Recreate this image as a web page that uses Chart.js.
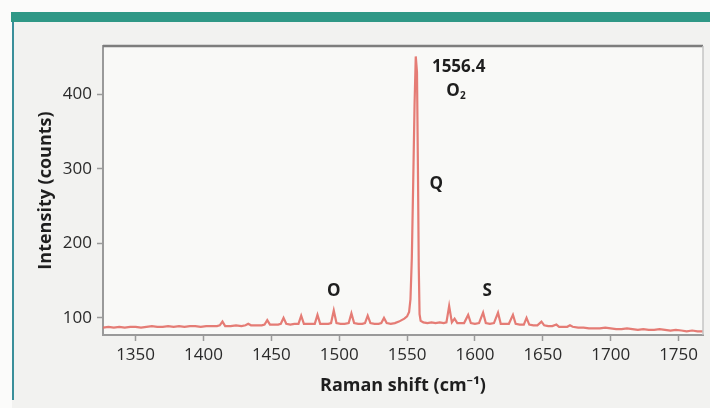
<!DOCTYPE html>
<html>
<head>
<meta charset="utf-8">
<script src="https://cdn.jsdelivr.net/npm/chart.js@4.4.1/dist/chart.umd.min.js"></script>
<style>
  html, body { margin: 0; padding: 0; background: #f3f3f1; }
  #wrap { width: 710px; height: 408px; }
</style>
</head>
<body>
<div id="wrap"><canvas id="raman"></canvas></div>
<script>
// O2 Raman spectrum: Raman shift (cm-1) vs. intensity (counts)
const ramanShift = [
  1326, 1330, 1334, 1338, 1342, 1346, 1350, 1354, 1358, 1362, 1366, 1370, 1374, 1378, 1382, 1386,
  1390, 1394, 1398, 1402, 1406, 1410, 1412, 1414, 1416, 1420, 1424, 1428, 1431, 1433, 1435, 1439,
  1443, 1445, 1447, 1449, 1452, 1455, 1457, 1459, 1461, 1464, 1467, 1470, 1472, 1474, 1477, 1480,
  1482, 1484, 1486, 1489, 1492, 1494, 1496, 1498, 1501, 1504, 1507, 1509, 1511, 1514, 1517, 1519,
  1521, 1523, 1526, 1529, 1531, 1533, 1535, 1538, 1541, 1544, 1546, 1548, 1550, 1551.5, 1552.5, 1553.5,
  1554.5, 1555.5, 1556.4, 1557.3, 1558, 1558.6, 1559.2, 1560, 1562, 1565, 1568, 1571, 1574, 1577, 1579, 1581,
  1583, 1585, 1587, 1589, 1592, 1595, 1597, 1600, 1603, 1606, 1608, 1611, 1614, 1617, 1619, 1622,
  1625, 1628, 1630, 1633, 1636, 1638, 1640, 1643, 1646, 1649, 1651, 1654, 1657, 1660, 1662, 1665,
  1668, 1670, 1672, 1676, 1680, 1684, 1688, 1692, 1696, 1700, 1704, 1708, 1712, 1716, 1720, 1724,
  1728, 1732, 1736, 1740, 1744, 1748, 1752, 1756, 1760, 1764, 1768
];
const counts = [
  87, 88, 87, 88, 87, 88, 88, 87, 88, 89, 88, 88, 89, 88, 89, 88,
  89, 89, 88, 89, 89, 89, 90, 95, 89, 89, 90, 89, 90, 92, 90, 90,
  90, 91, 97, 91, 91, 91, 92, 100, 92, 91, 92, 92, 103, 92, 92, 92,
  92, 104, 92, 92, 92, 93, 110, 93, 92, 92, 93, 106, 93, 92, 92, 93,
  103, 93, 92, 92, 93, 100, 93, 92, 93, 95, 97, 99, 102, 108, 125, 180,
  280, 385, 451, 430, 300, 170, 105, 96, 94, 93, 94, 93, 94, 93, 94, 116,
  94, 99, 93, 93, 93, 104, 93, 92, 93, 107, 93, 92, 93, 107, 92, 92,
  92, 104, 92, 91, 91, 100, 91, 90, 90, 95, 90, 89, 89, 91, 88, 88,
  88, 90, 88, 87, 87, 86, 86, 86, 87, 86, 85, 85, 86, 85, 84, 85,
  84, 84, 85, 84, 83, 84, 83, 82, 83, 82, 82
];
const xTicks = [1350, 1400, 1450, 1500, 1550, 1600, 1650, 1700, 1750];
const yTicks = [100, 200, 300, 400];

// peak annotations, placed in data units
const peakLabels = [
  { text: '1556.4', x: 1588, y: 436 },
  { text: 'O', sub: '2', x: 1586, y: 405 },
  { text: 'Q', x: 1571.5, y: 280 },
  { text: 'O', x: 1496, y: 136 },
  { text: 'S', x: 1609, y: 136 }
];

Chart.defaults.font.family = "'Open Sans', 'Noto Sans', sans-serif";
Chart.defaults.color = '#2a2a2a';

const pagePlugin = {
  id: 'page',
  beforeDraw(chart) {
    const { ctx, chartArea: a, width, height } = chart;
    ctx.save();
    ctx.fillStyle = '#f2f2f0';
    ctx.fillRect(0, 0, width, height);
    ctx.fillStyle = '#fbfbfa';
    ctx.fillRect(0, 0, width, 12);
    ctx.fillRect(0, 0, 12, height);
    // teal banner and side rule
    ctx.fillStyle = '#2f9886';
    ctx.fillRect(11, 12, width - 11, 10);
    ctx.fillStyle = '#3a8f9a';
    ctx.fillRect(12, 22, 2, height - 30);
    // plot area
    ctx.fillStyle = '#f9f9f7';
    ctx.fillRect(a.left, a.top, a.right - a.left, a.bottom - a.top);
    ctx.restore();
  },
  afterDraw(chart) {
    const { ctx, chartArea: a, scales } = chart;
    ctx.save();
    ctx.strokeStyle = '#7d7d7d';
    ctx.lineWidth = 2.5;
    ctx.beginPath();
    ctx.moveTo(a.left, a.top);
    ctx.lineTo(a.right, a.top);
    ctx.stroke();
    ctx.strokeStyle = '#c4c4c4';
    ctx.lineWidth = 1.5;
    ctx.beginPath();
    ctx.moveTo(a.right, a.top);
    ctx.lineTo(a.right, a.bottom);
    ctx.stroke();

    ctx.fillStyle = '#1e1e1e';
    ctx.textAlign = 'center';
    ctx.textBaseline = 'middle';
    peakLabels.forEach(l => {
      const px = scales.x.getPixelForValue(l.x);
      const py = scales.y.getPixelForValue(l.y);
      ctx.font = "bold 17px 'Open Sans', sans-serif";
      if (l.sub) {
        ctx.fillText(l.text, px - 3, py);
        ctx.font = "bold 10px 'Open Sans', sans-serif";
        ctx.fillText(l.sub, px + 7, py + 5);
      } else {
        ctx.fillText(l.text, px, py);
      }
    });
    ctx.restore();
  }
};

const points = ramanShift.map((x, i) => ({ x: x, y: counts[i] }));

new Chart(document.getElementById('raman'), {
  type: 'line',
  data: {
    datasets: [{
      label: 'Intensity',
      data: points,
      borderColor: 'rgba(226, 110, 102, 0.9)',
      borderWidth: 2.2,
      pointRadius: 0,
      tension: 0
    }]
  },
  options: {
    responsive: true,
    maintainAspectRatio: false,
    animation: false,
    layout: { padding: { top: 46, right: 7, bottom: 0, left: 0 } },
    plugins: {
      legend: { display: false },
      tooltip: { enabled: false }
    },
    scales: {
      x: {
        type: 'linear',
        min: 1326,
        max: 1768,
        afterBuildTicks: scale => { scale.ticks = xTicks.map(v => ({ value: v })); },
        afterFit: scale => { scale.height = 73; },
        grid: { drawOnChartArea: false, color: '#9a9a9a', tickLength: 6, tickWidth: 1.5 },
        border: { color: '#9a9a9a', width: 2 },
        ticks: {
          font: { size: 17 },
          padding: 4,
          maxRotation: 0,
          autoSkip: false,
          callback: v => String(v)
        },
        title: {
          display: true,
          text: 'Raman shift (cm⁻¹)',
          font: { size: 18, weight: 'bold' },
          color: '#1e1e1e',
          padding: { top: 0, bottom: 11 }
        }
      },
      y: {
        min: 77,
        max: 465,
        afterBuildTicks: scale => { scale.ticks = yTicks.map(v => ({ value: v })); },
        afterFit: scale => { scale.width = 103; },
        grid: { drawOnChartArea: false, color: '#9a9a9a', tickLength: 6, tickWidth: 1.5 },
        border: { color: '#9a9a9a', width: 2 },
        ticks: { font: { size: 17 }, padding: 5, callback: v => String(v) },
        title: {
          display: true,
          text: 'Intensity (counts)',
          font: { size: 18, weight: 'bold' },
          color: '#1e1e1e',
          padding: { top: 35, bottom: 0 }
        }
      }
    }
  },
  plugins: [pagePlugin]
});
</script>
</body>
</html>
